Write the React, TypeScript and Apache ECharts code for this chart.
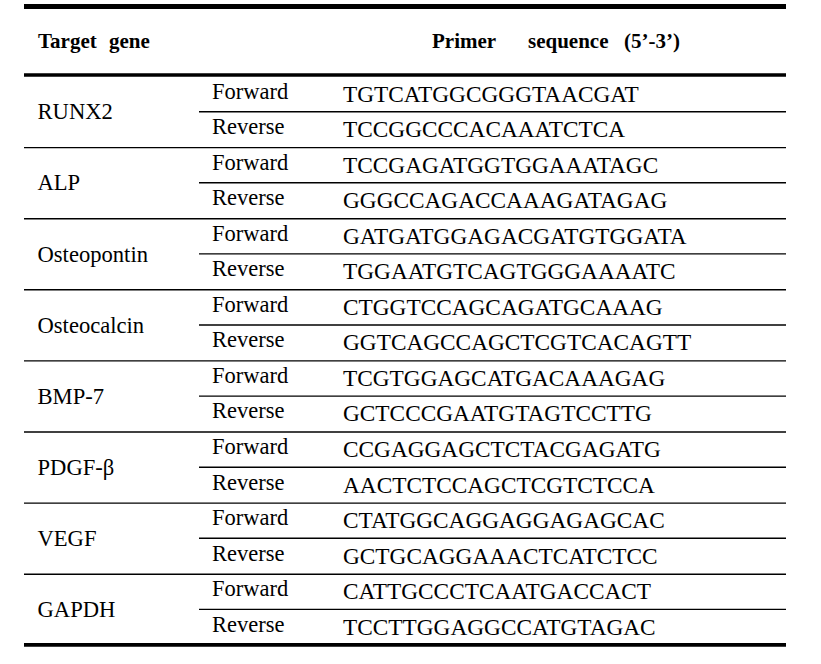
import React, { useEffect, useRef } from "react";
import * as echarts from "echarts";

const genes = ["RUNX2", "ALP", "Osteopontin", "Osteocalcin", "BMP-7", "PDGF-β", "VEGF", "GAPDH"];
const forwardSeqs = [
  "TGTCATGGCGGGTAACGAT",
  "TCCGAGATGGTGGAAATAGC",
  "GATGATGGAGACGATGTGGATA",
  "CTGGTCCAGCAGATGCAAAG",
  "TCGTGGAGCATGACAAAGAG",
  "CCGAGGAGCTCTACGAGATG",
  "CTATGGCAGGAGGAGAGCAC",
  "CATTGCCCTCAATGACCACT",
];
const reverseSeqs = [
  "TCCGGCCCACAAATCTCA",
  "GGGCCAGACCAAAGATAGAG",
  "TGGAATGTCAGTGGGAAAATC",
  "GGTCAGCCAGCTCGTCACAGTT",
  "GCTCCCGAATGTAGTCCTTG",
  "AACTCTCCAGCTCGTCTCCA",
  "GCTGCAGGAAACTCATCTCC",
  "TCCTTGGAGGCCATGTAGAC",
];
const directions = ["Forward", "Reverse"];
const headerGene = ["Target", "gene"];
const headerPrimer = ["Primer", "sequence", "(5’-3’)"];

const FONT = "'Liberation Serif', 'Times New Roman', serif";

export default function App() {
  const ref = useRef<HTMLDivElement>(null);
  useEffect(() => {
    if (!ref.current) return;
    const chart = echarts.init(ref.current, null, { renderer: "svg" });

    const left = 24;
    const right = 786;
    const subLeft = 199;
    const groupTop0 = 76.5;
    const groupH = 71.1;
    const subOff = 35.2;
    const xGene = 37.5;
    const xDir = 212;
    const xSeq = 343;

    const els: any[] = [];
    const txt = (x: number, y: number, text: string, size: number, bold = false) => ({
      type: "text",
      x,
      y,
      silent: true,
      style: {
        text,
        fill: "#000",
        fontFamily: FONT,
        fontSize: size,
        fontWeight: bold ? "bold" : "normal",
        align: "left",
        verticalAlign: "middle",
      },
    });
    const rect = (y: number, h: number) => ({
      type: "rect",
      silent: true,
      shape: { x: left, y, width: right - left, height: h },
      style: { fill: "#000" },
    });
    const line = (x1: number, x2: number, y: number) => ({
      type: "line",
      silent: true,
      shape: { x1, y1: y, x2, y2: y },
      style: { stroke: "#000", lineWidth: 1.4 },
    });

    // rules
    els.push(rect(4, 5));
    els.push(rect(73.2, 3.6));
    els.push(rect(643.1, 3.6));

    // header
    const headerY = 40.8;
    const gx = [38, 109];
    headerGene.forEach((t, i) => els.push(txt(gx[i], headerY, t, 21, true)));
    const px = [432, 528, 624];
    headerPrimer.forEach((t, i) => els.push(txt(px[i], headerY, t, 21, true)));

    genes.forEach((g, i) => {
      const top = groupTop0 + i * groupH;
      if (i > 0) els.push(line(left, right, top));
      els.push(line(subLeft, right, top + subOff));
      els.push(txt(xGene, top + 35.3, g, 22.6));
      els.push(txt(xDir, top + 14.5, directions[0], 22.5));
      els.push(txt(xDir, top + 50, directions[1], 22.5));
      els.push(txt(xSeq, top + 17, forwardSeqs[i], 23.3));
      els.push(txt(xSeq, top + 52.5, reverseSeqs[i], 23.3));
    });

    chart.setOption({
      animation: false,
      backgroundColor: "#fff",
      graphic: { elements: els },
    });
    return () => chart.dispose();
  }, []);

  return (
    <div
      ref={ref}
      style={{ position: "fixed", left: 0, top: 0, width: 821, height: 664, background: "#fff" }}
    />
  );
}
